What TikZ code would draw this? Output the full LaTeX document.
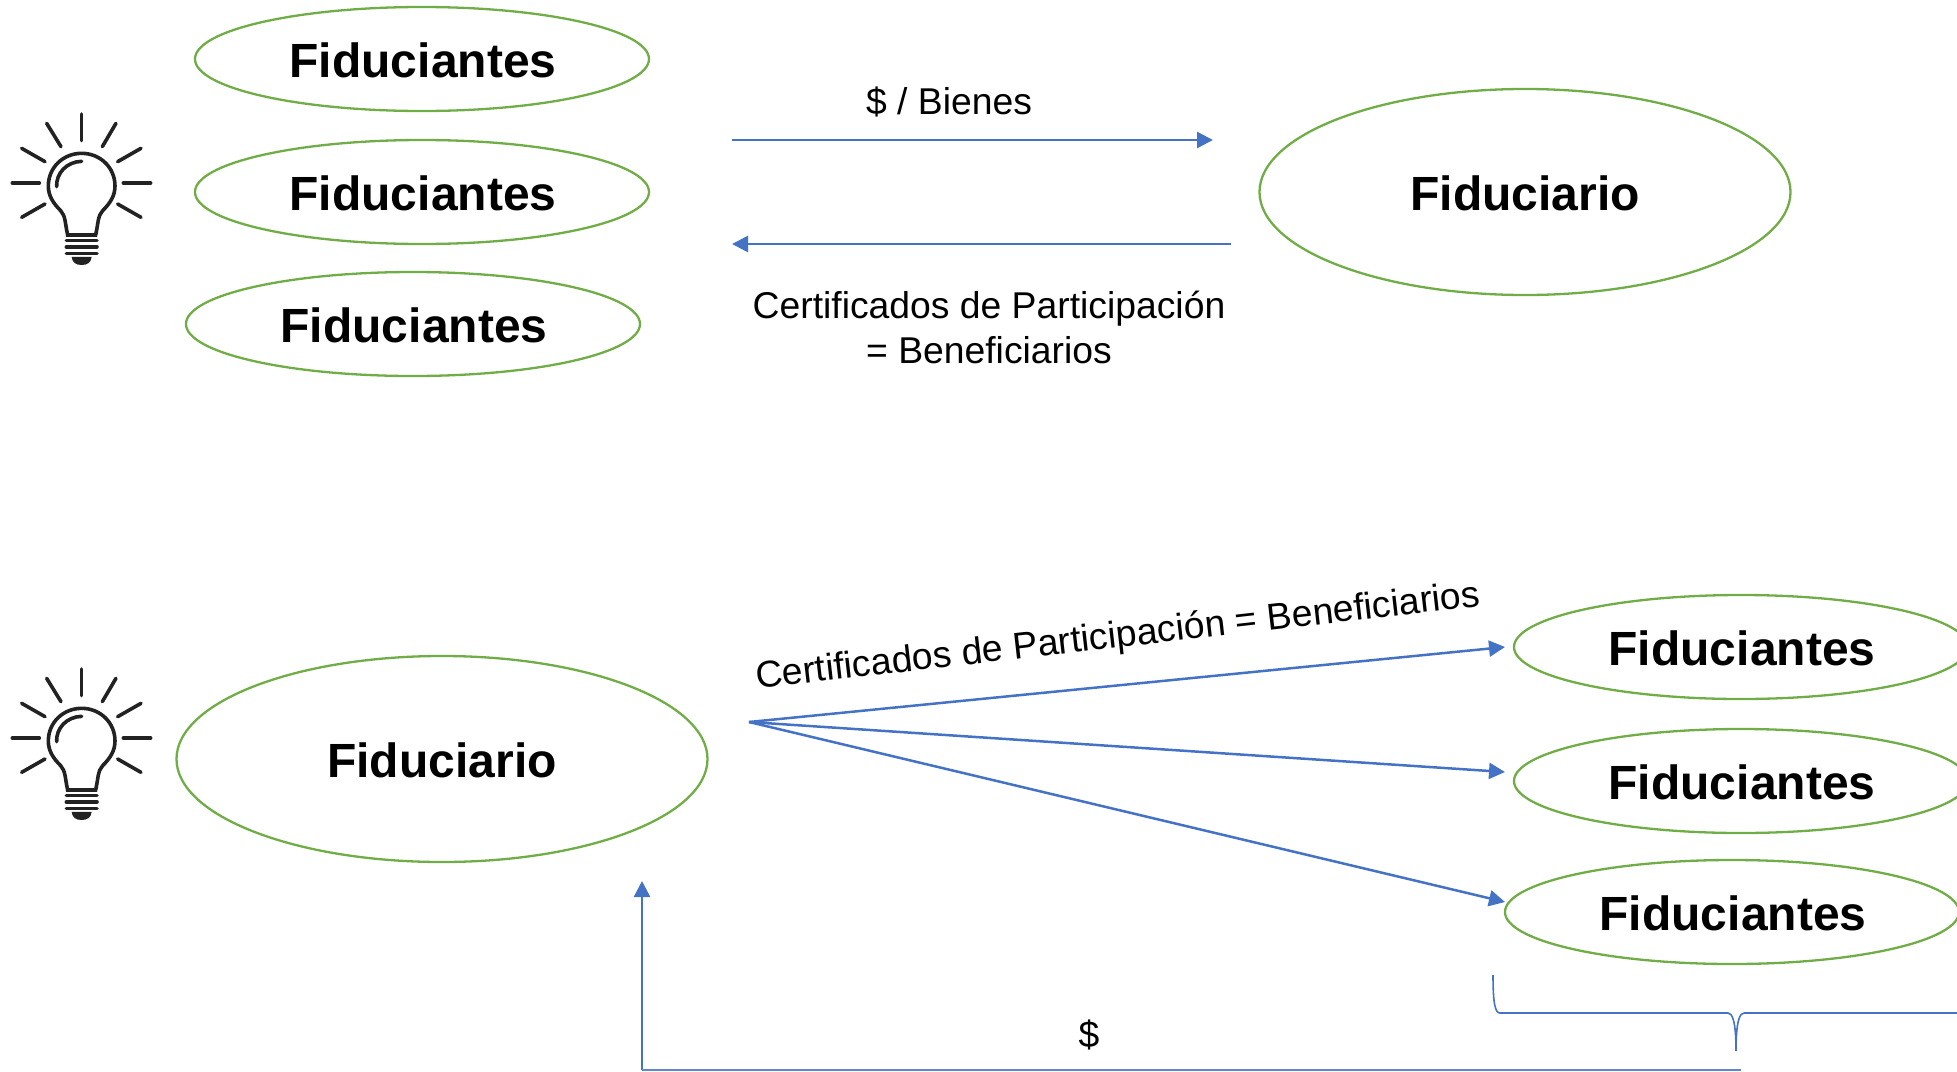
\documentclass[tikz,border=0pt]{standalone}
\usepackage{fontspec}
\setmainfont{Liberation Sans}
\usetikzlibrary{shapes.geometric,arrows.meta}
\definecolor{grn}{HTML}{70AD47}
\definecolor{blu}{HTML}{4472C4}
\definecolor{ink}{HTML}{222222}
\tikzset{
  x=1pt,y=-1pt,
  ell/.style={ellipse,draw=grn,line width=2.3pt,inner sep=0pt,text=black},
  smallell/.style={ell,minimum width=454pt,minimum height=104pt},
  bigell/.style={ell,minimum width=531pt,minimum height=206pt},
  etxt/.style={font=\bfseries\fontsize{48}{50}\selectfont,text=black,inner sep=0pt},
  arr/.style={draw=blu,line width=2.5pt,-{Triangle[length=16pt,width=16pt]}},
  brace/.style={draw=blu,line width=1.6pt},
  lbl/.style={font=\fontsize{37.3}{45}\selectfont,text=black,inner sep=0pt,align=center},
  bulb/.pic={
    \begin{scope}[x=0.3333pt,y=-0.3333pt,draw=ink,line width=3.6pt,line cap=round]
      \draw (245,72)--(245,152);
      \draw (140,100)--(183,170); \draw (348,100)--(307,170);
      \draw (65,175)--(135,215);  \draw (423,175)--(353,215);
      \draw (37,279)--(118,279);  \draw (370,279)--(452,279);
      \draw (65,382)--(135,342);  \draw (423,382)--(353,342);
      \draw (203,435) .. controls (195,400) and (197,378) .. (182,362)
        .. controls (160,340) and (145,318) .. (145,288)
        .. controls (145,232) and (190,190) .. (245,190)
        .. controls (300,190) and (345,232) .. (345,288)
        .. controls (345,318) and (330,340) .. (308,362)
        .. controls (293,378) and (295,400) .. (287,435) -- cycle;
      \draw (170,290) .. controls (168,250) and (200,215) .. (245,214);
      \draw (199,451)--(291,451);
      \draw (199,471)--(291,471);
      \draw (199,491)--(291,491);
      \fill[ink] (215,501) -- (275,501) .. controls (273,518) and (262,525) .. (245,525)
        .. controls (228,525) and (217,518) .. (215,501) -- cycle;
    \end{scope}
  }
}
\begin{document}
\begin{tikzpicture}
\useasboundingbox (0,0) rectangle (1957,1071);
\clip (0,0) rectangle (1957,1071);
% top group
\pic at (0,90) {bulb};
\node[smallell] (f1) at (422,59) {};
\node[smallell] (f2) at (422,192) {};
\node[smallell] (f3) at (413,324) {};
\node[bigell] (fo1) at (1525,192) {};
\node[etxt] (f1t) at (423,60) {Fiduciantes};
\node[etxt] (f2t) at (423,193) {Fiduciantes};
\node[etxt] (f3t) at (414,325) {Fiduciantes};
\node[etxt] (fo1t) at (1525,193) {Fiduciario};
\coordinate (a1s) at (732,140); \coordinate (a1e) at (1213,140);
\coordinate (a2s) at (1231,244); \coordinate (a2e) at (732,244);
\draw[arr] (a1s) -- (a1e);
\draw[arr] (a2s) -- (a2e);
\node[lbl] (t1) at (949,101.5) {\$ / Bienes};
\node[lbl] (t2) at (989,327.5) {Certificados de Participación\\= Beneficiarios};
% bottom group
\pic at (0,645) {bulb};
\node[bigell] (fo2) at (442,759) {};
\node[etxt] (fo2t) at (442,760) {Fiduciario};
\node[smallell] (f4) at (1741,647) {};
\node[smallell] (f5) at (1741,781) {};
\node[smallell] (f6) at (1732,912) {};
\node[etxt] (f4t) at (1742,648) {Fiduciantes};
\node[etxt] (f5t) at (1742,782) {Fiduciantes};
\node[etxt] (f6t) at (1733,913) {Fiduciantes};
\coordinate (hub) at (749,722);
\coordinate (e4) at (1505,647); \coordinate (e5) at (1505,772); \coordinate (e6) at (1505,902);
\draw[arr] (hub) -- (e4);
\draw[arr] (hub) -- (e5);
\draw[arr] (hub) -- (e6);
\node[lbl,rotate=6.5] (t3) at (1118,637.5) {Certificados de Participación = Beneficiarios};
\node[lbl] (t4) at (1089,1035) {\$};
\coordinate (upe) at (642,881); \coordinate (corner) at (642,1070);
\coordinate (lineend) at (1741,1070);
\draw[arr] (corner) -- (upe);
\draw[draw=blu!85,line width=1.4pt] (corner) -- (lineend);
\coordinate (bl) at (1493,975); \coordinate (btip) at (1736,1051);
\draw[brace] (bl) .. controls (1493,1003) and (1495,1013) .. (1500,1013)
  -- (1728,1013) .. controls (1732,1013) and (1736,1020) .. (btip)
  .. controls (1736,1020) and (1740,1013) .. (1744,1013) -- (1957,1013);
\end{tikzpicture}
\end{document}
